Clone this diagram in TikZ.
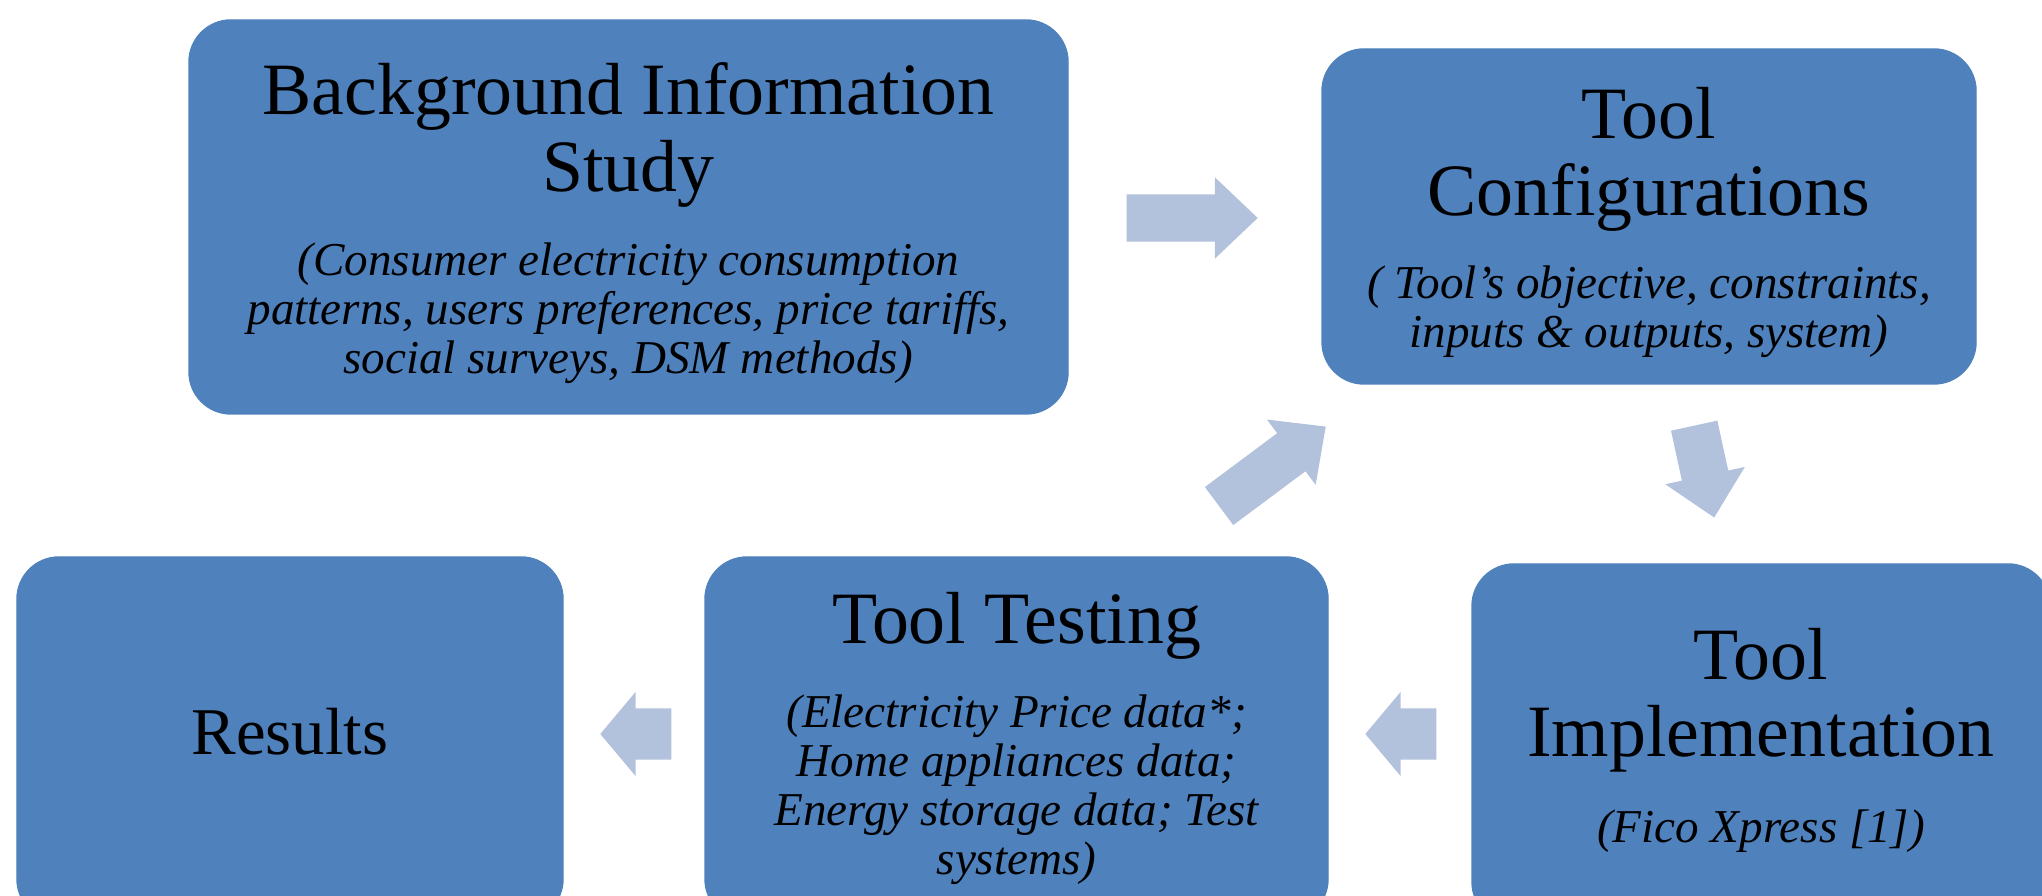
\documentclass[tikz,border=0pt]{standalone}
\usepackage{fontspec}
\setmainfont{Liberation Serif}
\definecolor{PhaseBlue}{HTML}{4F81BD}
\definecolor{ArrowBlue}{HTML}{B2C1DC}
\usetikzlibrary{shapes.arrows}
\tikzset{
  % Box styles
  phasebox/.style={rectangle, rounded corners=0.42cm, draw=PhaseBlue, fill=PhaseBlue, inner sep=0pt},
  % Text styles
  headtext/.style={inner sep=0pt, align=center, font=\fontsize{21pt}{21.9pt}\selectfont},
  notetext/.style={inner sep=0pt, align=center, font=\fontsize{13.4pt}{13.9pt}\selectfont\itshape},
  % Arrow styles
  flowarrow/.style={single arrow, fill=ArrowBlue, inner xsep=0pt, inner ysep=0.23cm, single arrow head extend=0.17cm, single arrow tip angle=87, anchor=tail},
  shortarrow/.style={flowarrow, inner ysep=0.25cm, single arrow head extend=0.165cm, single arrow tip angle=100}
}

\begin{document}
\begin{tikzpicture}
  \clip (0,0) rectangle (20.42,8.96);

  % Phase boxes
  \node[phasebox, minimum width=8.79cm, minimum height=3.94cm] (background) at (6.285,6.79) {};
  \node[phasebox, minimum width=6.54cm, minimum height=3.35cm] (config) at (16.49,6.795) {};
  \node[phasebox, minimum width=5.78cm, minimum height=3.60cm] (implement) at (17.61,1.52) {};
  \node[phasebox, minimum width=6.23cm, minimum height=3.64cm] (testing) at (10.165,1.57) {};
  \node[phasebox, minimum width=5.46cm, minimum height=3.64cm] (results) at (2.90,1.57) {};

  % Titles
  \node[headtext, anchor=north] (backgroundtitle) at (6.285,8.345) {Background Information\\Study};
  \node[headtext, anchor=north] (configtitle) at (16.49,8.095) {Tool\\Configurations};
  \node[headtext, anchor=north] (implementtitle) at (17.61,2.685) {Tool\\Implementation};
  \node[headtext, anchor=north] (testingtitle) at (10.165,3.045) {Tool Testing};
  \node[headtext, anchor=base, font=\fontsize{19pt}{20pt}\selectfont] (resultstitle) at (2.90,1.41) {Results};

  % Notes under the titles
  \node[notetext, anchor=north] (backgroundnote) at (6.285,6.535) {(Consumer electricity consumption\\patterns, users preferences, price tariffs,\\social surveys, DSM methods)};
  \node[notetext, anchor=north] (confignote) at (16.49,6.305) {( Tool’s objective, constraints,\\inputs \& outputs, system)};
  \node[notetext, anchor=north] (implementnote) at (17.61,0.865) {(Fico Xpress [1])};
  \node[notetext, anchor=north] (testingnote) at (10.165,2.015) {(Electricity Price data*;\\Home appliances data;\\Energy storage data; Test\\systems)};

  % Flow arrows
  \node[flowarrow, minimum height=1.31cm] (toconfig) at (11.26,6.78) {};
  \node[flowarrow, minimum height=1.33cm, rotate=36.7] (backtoconfig) at (12.185,3.895) {};
  \node[flowarrow, minimum height=0.94cm, rotate=-77.7] (toimplement) at (16.94,4.71) {};
  \node[shortarrow, minimum height=0.71cm, rotate=180] (totesting) at (14.37,1.62) {};
  \node[shortarrow, minimum height=0.71cm, rotate=180] (toresults) at (6.72,1.62) {};
\end{tikzpicture}
\end{document}
